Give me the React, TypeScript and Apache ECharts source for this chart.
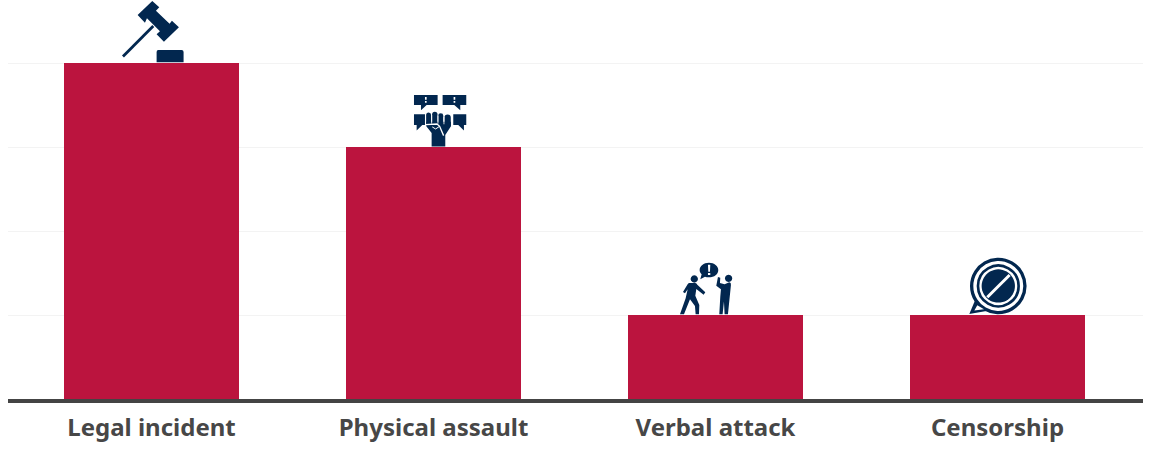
import React, { useEffect, useRef } from "react";
import * as echarts from "echarts";

const categories = ["Legal incident", "Physical assault", "Verbal attack", "Censorship"];
const values = [4, 3, 1, 1];
const yTicks = [0, 1, 2, 3, 4];

const NAVY = "#02274f";
const RED = "#bb143e";
const WHITE = "#ffffff";

const reg = (name: string, d: string) =>
  echarts.graphic.registerShape(name, echarts.graphic.extendPath(d, {}) as any);

reg(
  "gavelHead",
  "M157 3 L178 22 L168 32 L209 71 L216 62 L237 82 L192 125 L170 103 L180 94 L141 55 L135 68 L113 45 Z"
);
reg("gavelHandle", "M157 75 L163 81 L72 173 L66 167 Z");
reg("gavelBlock", "M175 150 L245 150 Q251 150 251 156 L251 187 L170 187 L170 156 Q170 150 175 150 Z");

reg(
  "fistBubbles",
  "M57 30 L128 30 L128 60 L95 60 L78 76 L78 60 L57 60 Z " +
    "M143 30 L214 30 L214 60 L196 60 L196 76 L178 60 L143 60 Z " +
    "M57 88 L90 88 L90 120 L82 120 L65 137 L65 120 L57 120 Z " +
    "M175 88 L214 88 L214 120 L207 120 L207 137 L190 120 L175 120 Z"
);
reg("fistPalm", "M94 110 L168 110 L168 124 L151 150 L151 185 L110 185 L110 144 L94 124 Z");
reg("fistDots", "M90 36 L95 36 L95 44 L90 44 Z M90 48 L95 48 L95 53 L90 53 Z M176 36 L181 36 L181 44 L176 44 Z M176 48 L181 48 L181 53 L176 53 Z");

reg("talkBubble", "M117 23 C133 23 145 33 145 45 C145 58 133 67 117 67 C112 67 108 66 105 65 L91 73 L95 58 C91 54 89 50 89 45 C89 33 101 23 117 23 Z");
reg("talkMark", "M114 29 L121 29 L120 50 L115 50 Z M114 54 L121 54 L121 60 L114 60 Z");
reg(
  "personLeft",
  "M73 61 A11 11 0 1 1 72.9 61 Z M58 84 L76 84 Q80 85 82 89 L106 112 L101 119 L79 102 L76 122 L88 150 L87 178 L77 178 L75 153 L60 133 L42 178 L30 178 L47 130 L53 103 L45 115 L39 111 L52 89 Q54 85 58 84 Z"
);
reg(
  "personRight",
  "M176 59 A11 11 0 1 1 175.9 59 Z M164 88 L178 82 Q184 83 183 90 L174 178 L164 178 L162 140 L158 178 L148 178 L151 125 L153 103 L139 92 L144 66 L151 68 L150 84 Z"
);

reg("censorTail", "M45 152 L28 192 L88 182 Z");
reg("censorTailInner", "M52 166 L43 182 L72 178 Z");

function renderIcon(params: any, api: any) {
  const idx = api.value(0);
  const [cx, top] = api.coord([idx, api.value(1)]);
  const shape = (type: string, fill = NAVY) => ({ type, style: { fill } });
  const circle = (x: number, y: number, r: number, s: any) => ({
    type: "circle",
    shape: { cx: x, cy: y, r },
    style: s,
  });
  const stroke = (x1: number, y1: number, x2: number, y2: number, color: string, w: number, cap = "butt") => ({
    type: "line",
    shape: { x1, y1, x2, y2 },
    style: { stroke: color, lineWidth: w, lineCap: cap },
  });
  let off = [0, 0];
  let children: any[] = [];
  if (idx === 0) {
    off = [-51.5, -63];
    children = [shape("gavelHandle"), shape("gavelHead"), shape("gavelBlock")];
  } else if (idx === 1) {
    off = [-38.5, -62];
    children = [
      shape("fistBubbles"),
      shape("fistDots", WHITE),
      shape("fistPalm"),
      stroke(101, 90, 101, 116, NAVY, 15, "round"),
      stroke(119.5, 88, 119.5, 116, NAVY, 16, "round"),
      stroke(137.5, 92, 137.5, 116, NAVY, 15, "round"),
      stroke(158, 98, 158, 118, NAVY, 19, "round"),
      stroke(110, 90, 110, 116, WHITE, 2.5),
      stroke(129, 92, 129, 116, WHITE, 2.5),
      stroke(147, 96, 147, 118, WHITE, 2.5),
      {
        type: "polyline",
        shape: { points: [[92, 119], [126, 117], [134, 124], [146, 152]] },
        style: { stroke: WHITE, lineWidth: 4, fill: "none" },
      },
      {
        type: "polyline",
        shape: { points: [[112, 126], [122, 132], [134, 124]] },
        style: { stroke: WHITE, lineWidth: 3, fill: "none" },
      },
    ];
  } else if (idx === 2) {
    off = [-45.5, -60];
    children = [shape("talkBubble"), shape("talkMark", WHITE), shape("personLeft"), shape("personRight")];
  } else {
    off = [-37.5, -65];
    children = [
      shape("censorTail"),
      circle(115, 108, 80, { fill: WHITE, stroke: NAVY, lineWidth: 10 }),
      shape("censorTailInner", WHITE),
      circle(115, 108, 61, { fill: "none", stroke: NAVY, lineWidth: 8 }),
      circle(115, 108, 50, { fill: NAVY }),
      stroke(82, 142, 149, 75, WHITE, 9),
    ];
  }
  return {
    type: "group",
    x: cx + off[0],
    y: top + off[1],
    scaleX: 1 / 3,
    scaleY: 1 / 3,
    children,
  };
}

export default function App() {
  const ref = useRef<HTMLDivElement>(null);
  useEffect(() => {
    const chart = echarts.init(ref.current!, undefined, { renderer: "svg", width: 1152, height: 461 });
    chart.setOption({
      animation: false,
      backgroundColor: "#ffffff",
      grid: [
        { left: 10.5, width: 1128, top: 63, height: 336 },
        { left: 8, width: 1135, top: 63, height: 336 },
      ],
      xAxis: [
        {
          type: "category",
          gridIndex: 0,
          data: categories,
          axisLine: { show: false },
          axisTick: { show: false },
          axisLabel: {
            color: "#474747",
            fontFamily: "Noto Sans",
            fontWeight: 700,
            fontSize: 24,
            margin: 15,
          },
          z: 5,
        },
        {
          type: "value",
          gridIndex: 1,
          min: 0,
          max: 1,
          offset: 2,
          axisLine: { show: true, onZero: false, lineStyle: { color: "#444444", width: 4, cap: "butt" } },
          axisTick: { show: false },
          axisLabel: { show: false },
          splitLine: { show: false },
        },
      ],
      yAxis: [
        {
          type: "value",
          gridIndex: 0,
          min: yTicks[0],
          max: yTicks[yTicks.length - 1],
          interval: 1,
          axisLine: { show: false },
          axisTick: { show: false },
          axisLabel: { show: false },
          splitLine: { show: false },
        },
        {
          type: "value",
          gridIndex: 1,
          min: yTicks[0],
          max: yTicks[yTicks.length - 1],
          interval: 1,
          axisLine: { show: false },
          axisTick: { show: false },
          axisLabel: { show: false },
          splitLine: { show: true, lineStyle: { color: "#f3f3f3", width: 1 } },
        },
      ],
      series: [
        {
          type: "bar",
          xAxisIndex: 0,
          yAxisIndex: 0,
          data: values,
          barWidth: 175,
          itemStyle: { color: RED },
          silent: true,
          z: 2,
        },
        {
          type: "custom",
          xAxisIndex: 0,
          yAxisIndex: 0,
          data: values.map((v, i) => [i, v]),
          encode: { x: 0, y: 1 },
          renderItem: renderIcon,
          clip: false,
          silent: true,
          z: 3,
        },
      ],
    });
    return () => chart.dispose();
  }, []);
  return (
    <div
      ref={ref}
      style={{ position: "fixed", left: 0, top: 0, width: 1152, height: 461, overflow: "hidden" }}
    />
  );
}
